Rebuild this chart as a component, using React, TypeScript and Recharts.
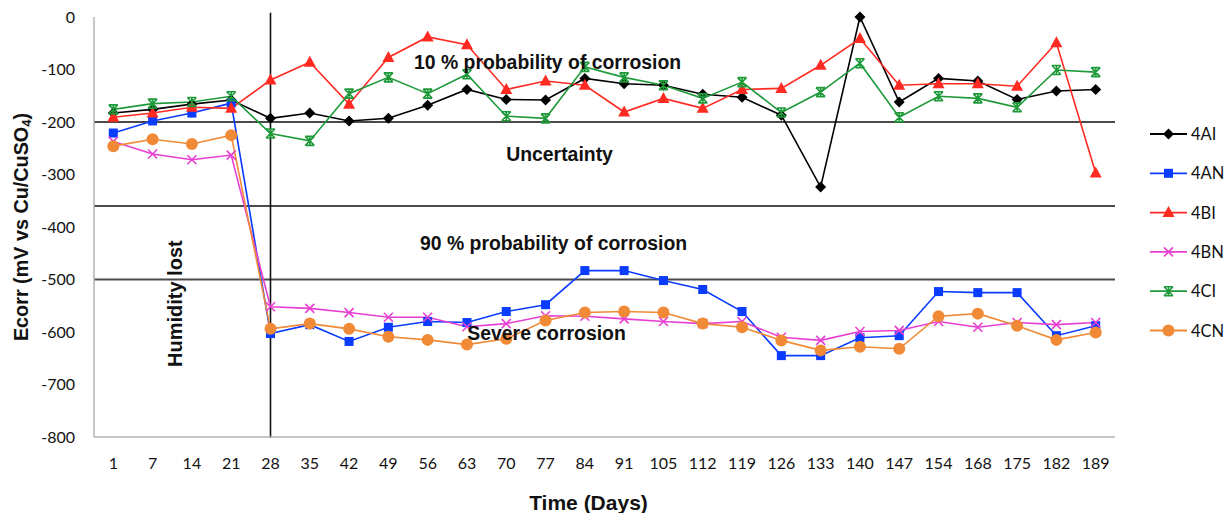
import React from 'react';
import { LineChart, Line, XAxis, YAxis, ReferenceLine, ReferenceDot, Label } from 'recharts';

const days = ['1','7','14','21','28','35','42','49','56','63','70','77','84','91','105','112','119','126','133','140','147','154','168','175','182','189'];
const s4AI = [-183,-176,-166,-158,-193,-183,-198,-193,-168,-138,-157,-158,-117,-127,-130,-147,-153,-187,-324,0,-162,-117,-122,-157,-141,-138];
const s4AN = [-221,-198,-183,-164,-603,-586,-618,-591,-580,-582,-561,-548,-483,-483,-502,-519,-561,-645,-645,-611,-607,-523,-525,-525,-607,-588];
const s4BI = [-191,-183,-172,-174,-120,-86,-166,-77,-38,-53,-138,-122,-130,-181,-155,-174,-138,-136,-92,-41,-130,-127,-127,-132,-49,-297];
const s4BN = [-237,-261,-272,-263,-552,-555,-563,-572,-572,-590,-584,-569,-570,-575,-580,-584,-580,-610,-616,-599,-597,-580,-591,-582,-586,-582];
const s4CI = [-176,-165,-162,-151,-222,-236,-146,-115,-146,-109,-189,-193,-95,-115,-130,-155,-124,-182,-143,-88,-191,-151,-155,-172,-101,-105];
const s4CN = [-246,-233,-242,-225,-594,-584,-594,-609,-615,-624,-613,-578,-563,-561,-563,-584,-591,-616,-635,-628,-632,-570,-565,-588,-615,-601];
const yTicks = [0, -100, -200, -300, -400, -500, -600, -700, -800];
const zoneLines = [-200, -360, -500];

const series = [
  { key: '4AI', values: s4AI, color: '#000000', marker: 'diamond' },
  { key: '4AN', values: s4AN, color: '#0a3cff', marker: 'square' },
  { key: '4BI', values: s4BI, color: '#ff2a22', marker: 'triangle' },
  { key: '4BN', values: s4BN, color: '#e83fd2', marker: 'cross' },
  { key: '4CI', values: s4CI, color: '#1f9a3a', marker: 'star' },
  { key: '4CN', values: s4CN, color: '#f08a36', marker: 'circle' },
];

const data = days.map((d, i) => {
  const row: any = { day: d };
  series.forEach((s) => { row[s.key] = s.values[i]; });
  return row;
});

const annotations = [
  { text: '10 % probability of corrosion', x: '77', y: -86, dx: 2 },
  { text: 'Uncertainty', x: '77', y: -260, dx: 14 },
  { text: '90 % probability of corrosion', x: '77', y: -431, dx: 8 },
  { text: 'Severe corrosion', x: '77', y: -601, dx: 1 },
];

const tickFont = { fontFamily: 'Lato, "Open Sans", sans-serif', fontSize: 16, fill: '#111' };
const boldFont = '"Liberation Sans", Arial, sans-serif';

function Marker({ cx, cy, kind, color }: any) {
  if (cx == null || cy == null || isNaN(cx) || isNaN(cy)) return null;
  switch (kind) {
    case 'diamond':
      return <path d={`M${cx},${cy - 5.5}L${cx + 5.5},${cy}L${cx},${cy + 5.5}L${cx - 5.5},${cy}Z`} fill={color} />;
    case 'square':
      return <rect x={cx - 4.5} y={cy - 4.5} width={9} height={9} fill={color} />;
    case 'triangle':
      return <path d={`M${cx},${cy - 6.5}L${cx + 6},${cy + 4.5}L${cx - 6},${cy + 4.5}Z`} fill={color} />;
    case 'cross':
      return (
        <path d={`M${cx - 4.5},${cy - 4.5}L${cx + 4.5},${cy + 4.5}M${cx + 4.5},${cy - 4.5}L${cx - 4.5},${cy + 4.5}`} stroke={color} strokeWidth={1.6} fill="none" />
      );
    case 'star':
      return (
        <path
          d={`M${cx - 4.5},${cy - 4.5}L${cx + 4.5},${cy + 4.5}M${cx + 4.5},${cy - 4.5}L${cx - 4.5},${cy + 4.5}M${cx - 4.5},${cy - 4.5}L${cx + 4.5},${cy - 4.5}M${cx - 4.5},${cy + 4.5}L${cx + 4.5},${cy + 4.5}M${cx},${cy - 4.5}L${cx},${cy + 4.5}`}
          stroke={color}
          strokeWidth={1.6}
          fill="none"
        />
      );
    case 'circle':
    default:
      return <circle cx={cx} cy={cy} r={6} fill={color} />;
  }
}

const makeDot = (kind: string, color: string) => (props: any) => (
  <Marker key={`${kind}-${props.index}`} cx={props.cx} cy={props.cy} kind={kind} color={color} />
);

const renderAnnotation = (text: string, dx: number) => (props: any) => {
  const vb = props.viewBox || {};
  const x = (vb.x || 0) + (vb.width || 0) / 2 + dx;
  const y = (vb.y || 0) + (vb.height || 0) / 2;
  return (
    <text x={x} y={y} textAnchor="middle" dominantBaseline="central" fontFamily={boldFont} fontWeight="bold" fontSize={19.4} fill="#111">
      {text}
    </text>
  );
};

const renderHumidity = (props: any) => {
  const vb = props.viewBox || {};
  const x = (vb.x || 0) + (vb.width || 0) / 2 - 17;
  const y = (vb.y || 0) + (vb.height || 0) / 2;
  return (
    <text x={x} y={y} transform={`rotate(-90, ${x}, ${y})`} textAnchor="middle" dominantBaseline="central" fontFamily={boldFont} fontWeight="bold" fontSize={20} fill="#111">
      Humidity lost
    </text>
  );
};

const renderYTitle = (props: any) => {
  const vb = props.viewBox || {};
  const x = 21;
  const y = (vb.y || 0) + (vb.height || 0) / 2;
  return (
    <text x={x} y={y} transform={`rotate(-90, ${x}, ${y})`} textAnchor="middle" dominantBaseline="central" fontFamily={boldFont} fontWeight="bold" fontSize={19.8} fill="#111">
      Ecorr (mV vs Cu/CuSO<tspan fontSize={13} dy={5}>4</tspan><tspan dy={-5}>)</tspan>
    </text>
  );
};

const renderXTitle = (props: any) => {
  const vb = props.viewBox || {};
  const x = (vb.x || 0) + (vb.width || 0) / 2 - 16;
  return (
    <text x={x} y={502} textAnchor="middle" dominantBaseline="central" fontFamily={boldFont} fontWeight="bold" fontSize={21} fill="#111">
      Time (Days)
    </text>
  );
};

function LegendBox() {
  return (
    <svg width={90} height={240} style={{ position: 'absolute', left: 1140, top: 114 }}>
      {series.map((s, i) => {
        const y = 20 + i * 39.3;
        return (
          <g key={s.key}>
            <line x1={10} x2={47} y1={y} y2={y} stroke={s.color} strokeWidth={1.8} />
            <Marker cx={28.5} cy={y} kind={s.marker} color={s.color} />
            <text x={51} y={y} dominantBaseline="central" fontFamily='Lato, "Open Sans", sans-serif' fontSize={16.5} fill="#111">
              {s.key}
            </text>
          </g>
        );
      })}
    </svg>
  );
}

export default function App() {
  return (
    <div style={{ position: 'absolute', left: 0, top: 0, width: 1227, height: 513, background: '#fff' }}>
      <LineChart width={1227} height={513} data={data} margin={{ top: 17, right: 112, bottom: 16, left: 0 }}>
        <XAxis
          dataKey="day"
          type="category"
          interval={0}
          padding={{ left: 19.3, right: 19.3 }}
          axisLine={{ stroke: '#b4b4b4', strokeWidth: 1.5 }}
          tickLine={false}
          tickSize={6}
          tickMargin={15}
          tick={tickFont}
          height={60}
          label={<Label content={renderXTitle} />}
        />
        <YAxis
          type="number"
          domain={[-800, 0]}
          ticks={yTicks}
          interval={0}
          width={94}
          axisLine={{ stroke: '#b4b4b4', strokeWidth: 1.5 }}
          tickLine={false}
          tickSize={6}
          tickMargin={13}
          tick={tickFont}
          label={<Label content={renderYTitle} />}
        />
        {zoneLines.map((v) => (
          <ReferenceLine key={v} y={v} stroke="#4a4a4a" strokeWidth={2} />
        ))}
        <ReferenceLine
          segment={[{ x: '28', y: 8 }, { x: '28', y: -802 }]}
          ifOverflow="visible"
          stroke="#111"
          strokeWidth={1.6}
        />
        {series.map((s) => (
          <Line
            key={s.key}
            dataKey={s.key}
            stroke={s.color}
            strokeWidth={1.6}
            dot={makeDot(s.marker, s.color)}
            activeDot={false}
            isAnimationActive={false}
          />
        ))}
        {annotations.map((a) => (
          <ReferenceDot key={a.text} x={a.x} y={a.y} r={0} fill="none" stroke="none" ifOverflow="visible" label={<Label content={renderAnnotation(a.text, a.dx)} />} />
        ))}
        <ReferenceDot x="14" y={-546} r={0} fill="none" stroke="none" ifOverflow="visible" label={<Label content={renderHumidity} />} />
      </LineChart>
      <LegendBox />
    </div>
  );
}
